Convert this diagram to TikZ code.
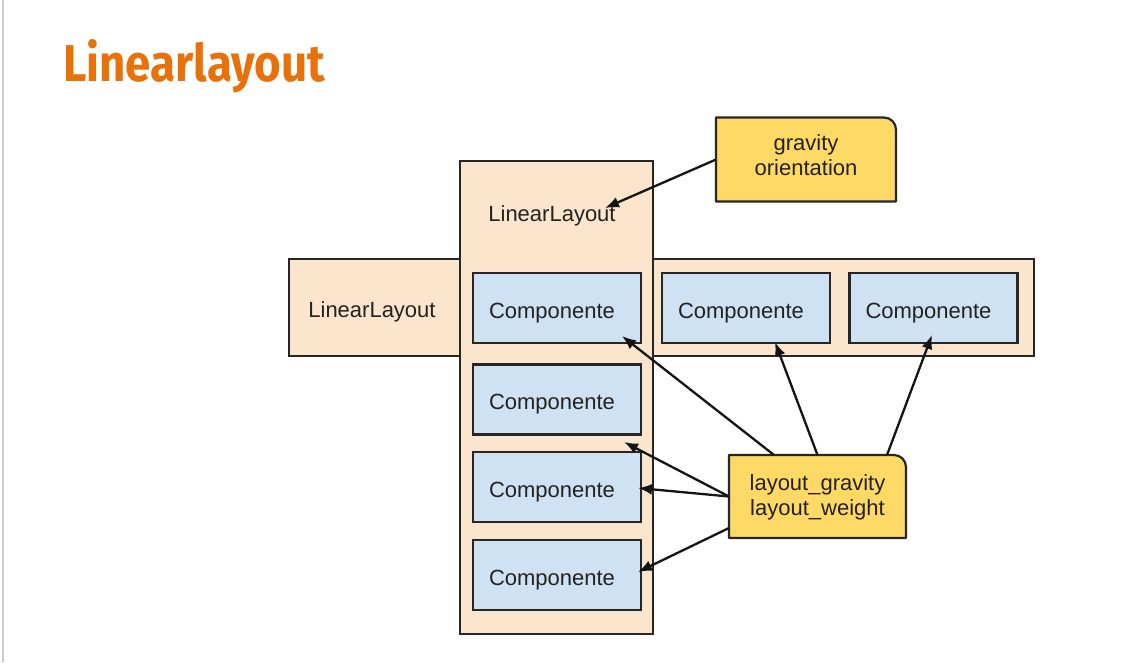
\documentclass[tikz,border=0pt]{standalone}
\usepackage{fontspec}
\setmainfont{Liberation Sans}
\newfontfamily\titlefont{Fira Sans}
\usetikzlibrary{arrows.meta,calc}
\definecolor{peach}{HTML}{FCE5CD}
\definecolor{compblue}{HTML}{CFE2F3}
\definecolor{note}{HTML}{FFD966}
\definecolor{edge}{HTML}{262626}
\definecolor{ink}{HTML}{222222}
\definecolor{titleorange}{HTML}{E8710A}
\definecolor{rule}{HTML}{CACAD2}
\pgfdeclarelayer{bg}
\pgfsetlayers{bg,main}
\begin{document}
\begin{tikzpicture}[x=1pt,y=-1pt,
  txt/.style={font=\fontsize{22}{25}\selectfont, text=ink},
  caption/.style={txt, inner sep=0pt, text height=15.7pt, text depth=0pt},
  frame/.style={draw=edge, line width=2.2pt, fill=peach, inner sep=0pt},
  comp/.style={txt, draw=edge, line width=2.2pt, fill=compblue,
    minimum width=168pt, minimum height=70pt, inner sep=0pt,
    text height=20.8pt, text depth=0pt,
    execute at begin node={\kern-10pt}},
  notebox/.style={inner sep=0pt, outer sep=0pt},
  notetext/.style={txt, align=center, inner sep=0pt},
  notebody/.style={draw=edge, line width=2.2pt, fill=note, line join=round},
  link/.style={draw=black!92, line width=2.3pt,
    -{Latex[length=14pt,width=11pt]}}]

% page
\begin{pgfonlayer}{bg}
  \fill[white] (0,0) rectangle (1144,662);
\end{pgfonlayer}
\useasboundingbox (0,0) rectangle (1144,662);
\draw[rule, line width=1.5pt] (3,0) -- (3,662);

% title
\node[anchor=base west, inner sep=0pt, text=titleorange] (title) at (63,81)
  {\resizebox{262pt}{42pt}{\titlefont\bfseries Linearlayout}};

% horizontal container (behind) and vertical container
\node[frame, minimum width=745pt, minimum height=97pt] (hframe) at (661.5,307.5) {};
\node[frame, minimum width=193pt, minimum height=473pt] (vframe) at (556.5,397.5) {};

\node[caption] (hlabel) at (372,310) {LinearLayout};
\node[caption] (vlabel) at (552,214) {LinearLayout};

% components of the vertical container
\node[comp] (c1) at (557,308) {Componente};
\node[comp] (c2) at (557,399.5) {Componente};
\node[comp] (c3) at (557,487) {Componente};
\node[comp] (c4) at (557,575) {Componente};

% components of the horizontal container
\node[comp] (c5) at (746,308) {Componente};
\node[comp] (c6) at (933.5,308) {Componente};

% attribute notes
\node[notebox, minimum width=180pt, minimum height=84pt,
  label={[notetext, yshift=4pt]center:gravity\\orientation}] (g) at (806,159.5) {};
\node[notebox, minimum width=177pt, minimum height=83pt,
  label={[notetext, yshift=-1pt]center:layout\_gravity\\layout\_weight}] (lay) at (817.5,496.5) {};

\begin{pgfonlayer}{bg}
  \foreach \n in {g,lay}{
    \draw[notebody] (\n.south west) -- (\n.north west)
      -- ([xshift=-12pt]\n.north east)
      .. controls ([xshift=-5.4pt]\n.north east) and ([yshift=-5.4pt]\n.north east)
      .. ([yshift=-12pt]\n.north east)
      -- (\n.south east) -- cycle;
  }
\end{pgfonlayer}

% arrow targets
\coordinate (t0) at (605,208);
\coordinate (t1) at (622,336);
\coordinate (t2) at (624,442);
\coordinate (t3) at (638,488);
\coordinate (t4) at (638,572);
\coordinate (t5) at (775,342);
\coordinate (t6) at (932,335);

% connectors
\draw[link] (g.west) -- (t0);
\draw[link] ([xshift=45pt]lay.north west) -- (t1);
\draw[link] (lay.north) -- (t5);
\draw[link] ([xshift=-19pt]lay.north east) -- (t6);
\draw[link] (lay.west) -- (t2);
\draw[link] (lay.west) -- (t3);
\draw[link] ([yshift=10pt]lay.south west) -- (t4);
\end{tikzpicture}
\end{document}
